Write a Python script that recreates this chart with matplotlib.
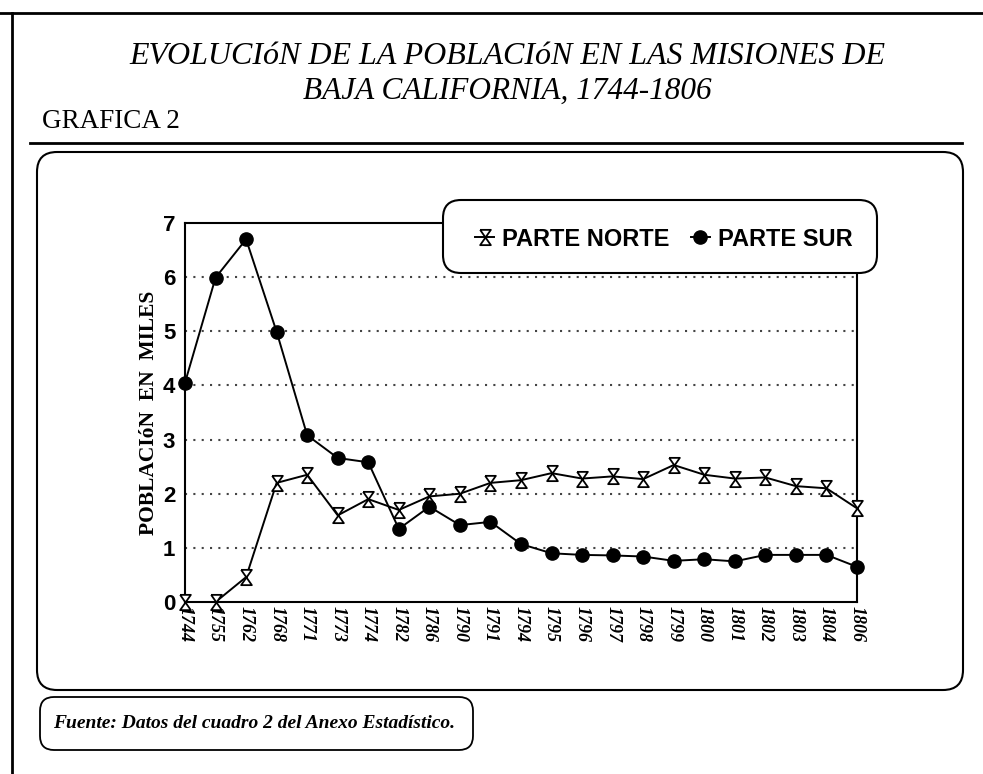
# -*- coding: utf-8 -*-
# Poblacion en las misiones de Baja California, 1744-1806 (grafica 2)

import matplotlib
matplotlib.use("Agg")
import matplotlib.pyplot as plt
from matplotlib.patches import FancyBboxPatch


# data (miles de personas)
years = ["1744", "1755", "1762", "1768", "1771", "1773", "1774", "1782",
         "1786", "1790", "1791", "1794", "1795", "1796", "1797", "1798",
         "1799", "1800", "1801", "1802", "1803", "1804", "1806"]
parte_norte = [0.0, 0.0, 0.46, 2.2, 2.35, 1.6, 1.9, 1.7, 1.95, 2.0, 2.2, 2.25,
               2.38, 2.28, 2.32, 2.27, 2.53, 2.35, 2.28, 2.3, 2.14, 2.1, 1.73]
parte_sur = [4.05, 5.99, 6.7, 4.99, 3.08, 2.66, 2.58, 1.35, 1.76, 1.42, 1.48,
             1.07, 0.9, 0.87, 0.86, 0.84, 0.76, 0.79, 0.75, 0.87, 0.87, 0.87, 0.65]
y_ticks = [0, 1, 2, 3, 4, 5, 6, 7]

W, H = 983, 774
SERIF = "Liberation Serif"
SANS = "Liberation Sans"

# hourglass marker (two triangles tip to tip)
hourglass = [(-0.7, 1), (0.7, 1), (-0.7, -1), (0.7, -1), (-0.7, 1)]

fig = plt.figure(figsize=(W / 100, H / 100), dpi=100)


def px(x0, y0, x1, y1):
    # pixel box (top-left origin) -> figure fraction rect
    return [x0 / W, 1 - y1 / H, (x1 - x0) / W, (y1 - y0) / H]


# main plot
ax = fig.add_axes(px(185, 223, 857, 602))
ax.set_zorder(2)
x = list(range(len(years)))
ax.plot(x, parte_norte, color="black", lw=1.4, marker=hourglass,
        markersize=11, markerfacecolor="white", markeredgecolor="black",
        markeredgewidth=1.3, label="PARTE NORTE", clip_on=False, zorder=3)
ax.plot(x, parte_sur, color="black", lw=1.4, marker="o", markersize=9.5,
        markerfacecolor="black", label="PARTE SUR", clip_on=False, zorder=4)

ax.set_xlim(0, len(years) - 1)
ax.set_ylim(0, 7)
ax.set_xticks(x)
ax.set_xticklabels(years, rotation=-90, fontfamily=SERIF, fontstyle="italic",
                   fontweight="bold", fontsize=13)
ax.set_yticks(y_ticks)
ax.set_yticklabels([str(v) for v in y_ticks], fontfamily=SANS,
                   fontweight="bold", fontsize=16)
ax.tick_params(axis="x", length=0, pad=3)
ax.tick_params(axis="y", length=0, pad=7)
for v in y_ticks[1:-1]:
    ax.axhline(v, color="#444444", lw=1.5, ls=(0, (1, 3)), zorder=1)
for s in ax.spines.values():
    s.set_linewidth(1.5)
ax.set_ylabel("POBLACIóN  EN  MILES", fontfamily=SERIF, fontsize=15.5,
              fontweight="bold", labelpad=3)

# overlay for frames, titles and boxes (pixel coords)
ov = fig.add_axes([0, 0, 1, 1])
ov.set_zorder(3)
ov.set_xlim(0, W)
ov.set_ylim(H, 0)
ov.axis("off")
ov.patch.set_alpha(0)

ov.plot([0, W], [13, 13], color="black", lw=2)
ov.plot([12, 12], [13, H], color="black", lw=2)
ov.plot([30, 962], [143, 143], color="black", lw=2)

ov.text(507, 56, "EVOLUCIóN DE LA POBLACIóN EN LAS MISIONES DE",
        ha="center", va="center", fontfamily=SERIF, fontstyle="italic",
        fontsize=23)
ov.text(507, 91, "BAJA CALIFORNIA, 1744-1806", ha="center", va="center",
        fontfamily=SERIF, fontstyle="italic", fontsize=22.5)
ov.text(42, 121, "GRAFICA 2", ha="left", va="center", fontfamily=SERIF,
        fontsize=19.5)

# big rounded frame around the chart
ov.add_patch(FancyBboxPatch((37, 152), 926, 538,
                            boxstyle="round,pad=0,rounding_size=20",
                            facecolor="none", edgecolor="black", lw=1.5))

# legend box
ov.add_patch(FancyBboxPatch((443, 200), 434, 73,
                            boxstyle="round,pad=0,rounding_size=18",
                            facecolor="white", edgecolor="black", lw=1.5))
handles, labels = ax.get_legend_handles_labels()
leg = ov.legend(handles, labels, loc="center", bbox_to_anchor=(664, 239),
                bbox_transform=ov.transData, ncol=2, frameon=False,
                handlelength=0.8, handletextpad=0.35, columnspacing=0.9,
                prop={"family": SANS, "weight": "bold", "size": 17})

# source box
ov.add_patch(FancyBboxPatch((40, 697), 433, 53,
                            boxstyle="round,pad=0,rounding_size=14",
                            facecolor="white", edgecolor="black", lw=1.3))
ov.text(53, 724, "Fuente: Datos del cuadro 2 del Anexo Estadístico.",
        ha="left", va="center", fontfamily=SERIF, fontstyle="italic",
        fontweight="bold", fontsize=14)

fig.savefig("out.png", dpi=100)
